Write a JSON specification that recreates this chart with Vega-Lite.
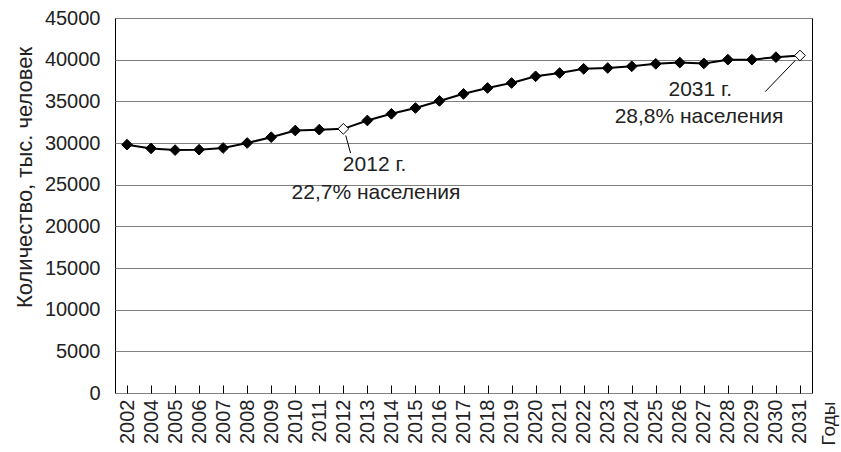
{
  "$schema": "https://vega.github.io/schema/vega-lite/v6.json",
  "width": 697,
  "height": 375,
  "autosize": "none",
  "padding": {"left": 115, "top": 18, "right": 29, "bottom": 59},
  "background": "white",
  "config": {
    "view": {"stroke": "black", "strokeWidth": 1},
    "font": "Liberation Sans",
    "axis": {"labelFont": "Liberation Sans", "titleFont": "Liberation Sans", "labelColor": "#222", "titleColor": "#222", "titleFontWeight": "normal"}
  },
  "datasets": {
    "series": [
      {"year": "2002", "value": 29800},
      {"year": "2004", "value": 29350},
      {"year": "2005", "value": 29150},
      {"year": "2006", "value": 29200},
      {"year": "2007", "value": 29400},
      {"year": "2008", "value": 30000},
      {"year": "2009", "value": 30700},
      {"year": "2010", "value": 31500},
      {"year": "2011", "value": 31600},
      {"year": "2012", "value": 31700},
      {"year": "2013", "value": 32700},
      {"year": "2014", "value": 33500},
      {"year": "2015", "value": 34200},
      {"year": "2016", "value": 35050},
      {"year": "2017", "value": 35900},
      {"year": "2018", "value": 36600},
      {"year": "2019", "value": 37200},
      {"year": "2020", "value": 38000},
      {"year": "2021", "value": 38400},
      {"year": "2022", "value": 38900},
      {"year": "2023", "value": 39000},
      {"year": "2024", "value": 39200},
      {"year": "2025", "value": 39500},
      {"year": "2026", "value": 39650},
      {"year": "2027", "value": 39550},
      {"year": "2028", "value": 40000},
      {"year": "2029", "value": 40000},
      {"year": "2030", "value": 40300},
      {"year": "2031", "value": 40500}
    ],
    "leaders": [
      {"x": 9.1, "y": 30900, "x2": 9.3, "y2": 28800},
      {"x": 27.8, "y": 39900, "x2": 26.55, "y2": 36150}
    ],
    "notes": [
      {"x": 10.3, "y": 27350, "text": "2012 г."},
      {"x": 10.36, "y": 24000, "text": "22,7% населения"},
      {"x": 23.85, "y": 36350, "text": "2031 г."},
      {"x": 23.8, "y": 33150, "text": "28,8% населения"}
    ]
  },
  "layer": [
    {
      "data": {"name": "series"},
      "layer": [
        {
          "mark": {"type": "line", "color": "black", "strokeWidth": 2},
          "encoding": {
            "x": {
              "field": "year", "type": "ordinal",
              "scale": {"type": "point", "padding": 0.5},
              "axis": {
                "title": "Годы", "titleFontSize": 19, "titleAngle": -90,
                "titleX": 713, "titleY": 38, "titleAlign": "center", "titleBaseline": "middle",
                "labelAngle": -90, "labelFontSize": 20, "labelAlign": "right", "labelBaseline": "middle",
                "offset": -8, "labelPadding": 6, "tickSize": 8, "tickColor": "black", "tickWidth": 1,
                "domain": false, "grid": false
              }
            },
            "y": {
              "field": "value", "type": "quantitative",
              "scale": {"domain": [0, 45000], "nice": false},
              "axis": {
                "title": "Количество, тыс. человек", "titleFontSize": 22,
                "titleX": -91, "titleY": 159, "titleAlign": "center", "titleBaseline": "middle",
                "values": [0, 5000, 10000, 15000, 20000, 25000, 30000, 35000, 40000, 45000],
                "format": "d", "labelFontSize": 20, "labelPadding": 15,
                "ticks": false, "domain": false,
                "grid": true, "gridColor": "#808080", "gridWidth": 1
              }
            }
          }
        },
        {
          "mark": {"type": "point", "shape": "diamond", "size": 115, "filled": true, "stroke": "black", "strokeWidth": 1, "opacity": 1},
          "encoding": {
            "x": {"field": "year", "type": "ordinal"},
            "y": {"field": "value", "type": "quantitative"},
            "fill": {
              "condition": {"test": "datum.year == '2012' || datum.year == '2031'", "value": "white"},
              "value": "black"
            }
          }
        }
      ]
    },
    {
      "layer": [
        {
          "data": {"name": "leaders"},
          "mark": {"type": "rule", "color": "black", "strokeWidth": 1},
          "encoding": {
            "x": {"field": "x", "type": "quantitative", "scale": {"domain": [-0.5, 28.5], "nice": false, "zero": false}, "axis": null},
            "y": {"field": "y", "type": "quantitative", "axis": null},
            "x2": {"field": "x2"},
            "y2": {"field": "y2"}
          }
        },
        {
          "data": {"name": "notes"},
          "mark": {"type": "text", "fontSize": 21, "font": "Liberation Sans", "color": "#222", "align": "center", "baseline": "middle"},
          "encoding": {
            "x": {"field": "x", "type": "quantitative", "axis": null},
            "y": {"field": "y", "type": "quantitative", "axis": null},
            "text": {"field": "text"}
          }
        }
      ]
    }
  ],
  "resolve": {"scale": {"x": "independent"}, "axis": {"x": "independent", "y": "independent"}}
}
